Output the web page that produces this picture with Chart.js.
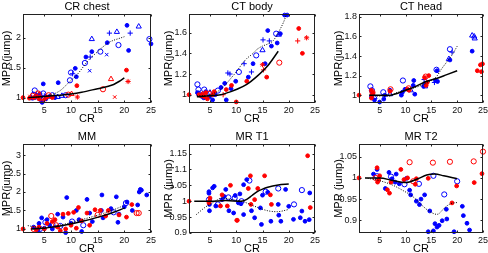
<!DOCTYPE html>
<html>
<head>
<meta charset="utf-8">
<script src="https://cdn.jsdelivr.net/npm/chart.js@4.4.1/dist/chart.umd.min.js"></script>
<style>
  body { margin: 0; width: 488px; height: 253px; overflow: hidden; background: #fff; position: relative; }
  canvas { position: absolute; }
</style>
</head>
<body>
<script>
Chart.defaults.font.family = "'Liberation Sans', Arial, sans-serif";
Chart.defaults.color = '#000';

const xTicks = [5, 10, 15, 20, 25];
const xRange = [1, 25];

// CR chest
const chestYTicks = [1, 1.5, 2];
const chestYRange = [0.91, 2.4];
const chestBlueDot = [[25,1.9],[20.5,2.21],[20.8,1.79],[16.8,1.92],[13.9,1.77],[12.8,1.68],[10.8,1.49],[11,1.35],[7.6,1.25],[4.8,1.23],[4.6,0.92],[3.5,1.04],[6,1.02],[7,1.0],[2.8,0.99],[4.2,1.06],[5.3,0.98],[3.2,1.0]];
const chestBlueRing = [[24.7,1.98],[18.9,1.88],[15.5,1.77],[12.6,1.58],[10,1.42],[9.8,1.29],[3.2,1.12],[4.8,1.07],[3,1.05],[4,1.0],[9,1.04],[6.5,1.04]];
const chestBlueTri = [[22.7,2.19],[18.6,2.1],[13.9,1.98],[4.6,0.96],[8.3,1.03],[3.5,1.03],[7.5,1.01]];
const chestBluePlus = [[21.1,2.08],[17.2,2.08],[13.6,1.68],[10.3,1.4],[2.5,1.0],[5,1.03]];
const chestBlueX = [[16.7,1.72],[13.5,1.45],[4.3,0.97]];
const chestRedDot = [[20.4,1.46],[11.1,1.2],[1,1],[3,1.0],[4,0.98],[5.5,1.01],[2.2,0.99],[6.5,1.0]];
const chestRedStar = [[20.7,1.27],[11.2,1.01],[3.5,1.02],[5,0.97]];
const chestRedTri = [[17.5,1.31],[10.1,1.06],[4,1.05]];
const chestRedRing = [[16,1.14],[9.5,1.05],[3.8,1.07],[2.8,1.03],[5.8,1.04]];
const chestRedX = [[18.2,1.01],[4.5,0.96],[2.3,1.02]];
const chestFit = [[2,1.0],[5,1.02],[8,1.04],[10,1.06],[12,1.09],[15,1.15],[17,1.19],[18,1.22],[19,1.27],[20,1.33]];
const chestFitDot = [[2,1.0],[5,1.02],[6,1.04],[7,1.07],[8,1.12],[9,1.2],[10,1.29],[11,1.37],[12,1.48],[13,1.6],[14,1.69],[15,1.77],[16,1.85],[17,1.92],[18,1.96],[19,1.99],[20,2.02]];

// CT body
const bodyYTicks = [1, 1.2, 1.4, 1.6];
const bodyYRange = [0.92, 1.78];
const bodyBlueDot = [[19.2,1.77],[19.7,1.77],[18.4,1.59],[16,1.62],[17.8,1.5],[16.7,1.47],[15.5,1.3],[13.2,1.3],[12.3,1.17],[9.9,1.13],[7.8,1.11],[7.1,1.07],[4.2,1.03],[5.5,0.95],[8.1,0.95],[4.9,0.98],[3.3,1.0],[6,1.0],[9,1.06],[3.8,0.97],[2.6,1.02]];
const bodyBlueRing = [[17.6,1.59],[13.8,1.38],[10.5,1.22],[2.6,1.1],[2.8,1.05],[3.9,1.05],[6.5,1.04],[3.5,0.99]];
const bodyBlueTri = [[18.1,1.58],[15,1.43],[2.9,1.01],[5,1.02]];
const bodyBluePlus = [[15.1,1.53],[16.3,1.52],[12.9,1.22],[8.4,1.21],[8.8,1.2],[11.5,1.3]];
const bodyRedDot = [[1,1.0],[21.9,1.64],[22.6,1.4],[15.8,1.17],[12,1.13],[9.1,1.09],[8.1,1.05],[5.8,1.03],[2.9,1.0],[3.9,0.98],[4.5,0.96],[5.5,1.0],[10,0.93],[4.2,1.02],[3.3,0.99]];
const bodyRedStar = [[23.4,1.55],[15,1.29],[3.6,1.01]];
const bodyRedPlus = [[21.7,1.52],[15.2,1.24],[7.5,1.0]];
const bodyRedRing = [[18.2,1.31],[4.8,1.01]];
const bodyFit = [[2.5,0.98],[5,0.99],[7,1.0],[9,1.03],[10,1.05],[12,1.1],[14,1.18],[16,1.28],[18,1.42]];
const bodyFitDot = [[2.5,0.99],[5,1.0],[6,1.02],[7,1.05],[8,1.1],[9,1.16],[10,1.22],[11,1.29],[12,1.35],[13,1.39],[14,1.44],[15,1.47],[16,1.49],[17,1.52],[18,1.6],[19,1.7],[19.6,1.78]];

// CT head
const headYTicks = [1, 1.2, 1.4, 1.6, 1.8];
const headYRange = [0.92, 1.83];
const headBlueDot = [[22.9,1.45],[18.6,1.36],[16.1,1.25],[15.8,1.15],[16.2,1.14],[13.5,1.09],[13.8,1.12],[11.5,1.1],[11.6,1.15],[9.9,1.06],[9.4,1.03],[7,1.05],[6,1.0],[5,0.93],[4,0.95],[3.4,0.98],[5.8,0.96],[11.8,1.01],[9.2,1.0]];
const headBlueRing = [[18.6,1.47],[9.5,1.15],[3.2,1.09],[5.7,1.03],[16,1.26],[3.5,1.05]];
const headBlueTri = [[22.9,1.61],[23.3,1.6],[23.4,1.58],[18.4,1.37],[11,1.05],[4,0.98],[7,1.01],[13.8,1.09]];
const headBluePlus = [[19,1.44],[15.6,1.13],[13.6,1.16],[3.6,1.0]];
const headRedDot = [[1,1],[23.9,1.25],[24.7,1.24],[24.5,1.31],[24.9,1.32],[13.7,1.18],[14.2,1.13],[14,1.1],[10.4,1.06],[10.7,1.05],[7,1.04],[3.4,1.05],[3.5,1.0],[3.4,0.97],[3.7,1.02],[14.5,1.2]];
const headRedRing = [[7.1,1.06],[13.9,1.19],[10.6,1.07],[3.6,1.03]];
const headFit = [[3,1.0],[5,1.0],[7,1.0],[8.5,1.02],[10,1.05],[12,1.09],[14,1.14],[16,1.17],[18,1.21],[20,1.25]];
const headFitDot = [[3,1.0],[5,0.99],[7,0.99],[8,1.02],[10,1.05],[12,1.08],[14,1.12],[15,1.15],[16,1.19],[17,1.27],[18,1.34],[19,1.41],[20,1.5]];

// MM
const mmYTicks = [1, 1.5, 2, 2.5, 3];
const mmYRange = [0.89, 3.3];
const mmBlueDot = [[23,2.07],[23.2,2.05],[22.8,2.0],[24.2,1.92],[22.5,1.65],[21.5,1.5],[20.5,1.73],[18.5,1.87],[18.8,1.18],[15.8,1.92],[13,1.8],[9.2,1.85],[15.7,1.5],[13.5,1.43],[11,1.5],[8.5,1.32],[7.5,1.4],[5.5,1.25],[4.5,1.3],[4,1.15],[3,1.05],[6,1.1],[9,0.9],[12,0.93],[16,1.3],[19,1.4],[10,1.15],[11.5,1.25],[17.5,1.55],[14,1.2],[20,1.6],[5,1.02],[6.5,1.0],[3.8,0.97]];
const mmBlueRing = [[5.2,1.18],[6.5,1.12],[8,1.08],[10.2,1.2],[12.3,1.1],[18,1.45],[4.2,1.0],[20.3,1.7]];
const mmRedDot = [[1,1],[21.4,1.66],[20.4,1.32],[19,1.38],[17,1.5],[16.5,1.35],[15.5,1.5],[14.5,1.52],[13,1.43],[11.4,1.58],[10.5,1.45],[9.5,1.42],[8.5,1.4],[7,1.25],[5.5,1.15],[5,1.0],[4,1.05],[3.5,0.98],[7.5,1.05],[8,0.95],[10,1.1],[12,1.22],[13.5,1.1],[6.5,1.2],[9,1.0],[11,1.02]];
const mmRedRing = [[22.7,1.43],[22.3,1.43],[6.3,1.35],[7.2,1.1],[15,1.38],[3,1.0]];
const mmFit = [[2.5,1.0],[5,1.02],[7,1.06],[9.4,1.12],[12,1.2],[15.6,1.34],[18,1.45],[20.1,1.57]];
const mmFitDot = [[1.9,1.09],[3.5,1.05],[5,1.04],[7,1.08],[9.4,1.15],[12,1.25],[15.6,1.4],[18,1.52],[19.7,1.62]];

// MR T1
const t1YTicks = [0.9, 0.95, 1, 1.05, 1.1, 1.15];
const t1YRange = [0.9, 1.18];
const t1BlueDot = [[5.8,1.047],[5.5,1.042],[4.8,1.03],[4.8,1.025],[4.9,0.99],[4.9,0.97],[6.1,0.985],[7.3,1.005],[7.7,1.015],[8.6,0.97],[9.5,0.963],[10.7,1.023],[10.9,0.992],[11.4,0.958],[12,1.068],[12.9,0.97],[13.5,0.948],[14.6,0.979],[15,1.019],[16,1.028],[18,0.99],[18.1,0.956],[18.5,0.937],[20,0.984],[20.9,0.943],[22.2,0.948],[22.5,0.969],[23.1,0.937],[23.9,0.942],[24,1.026],[19.4,1.037],[16.6,0.937],[14.8,0.927],[10.4,0.995],[8,1.037],[11.4,1.052],[9.8,1.018]];
const t1BlueRing = [[12.5,1.065],[15.6,1.03],[18,1.04],[8.5,1.012],[9.7,1.01],[21,0.99],[6.5,0.99],[22.5,1.035],[4.8,1.005],[11,1.0]];
const t1RedDot = [[1,1],[23.6,1.143],[24.1,0.98],[15.4,1.08],[12.7,1.08],[12.3,1.04],[14.1,1.04],[16.5,1.02],[16.7,0.99],[8.9,1.05],[7.3,1.02],[8.3,0.985],[10.1,0.94],[4.9,1.0],[5,1.01],[4.8,0.995],[7,0.985],[13.5,1.005],[10.2,0.94],[12.8,0.99]];
const t1Fit = [[2,1.0],[5,1.0],[8,1.002],[11,1.0],[12,1.006],[13,1.018],[14,1.03],[15,1.038],[16,1.044],[18,1.051],[20,1.054]];
const t1FitDot = [[2.4,0.958],[4,0.98],[5.5,0.995],[7.3,1.01],[9.2,1.005],[11.4,0.998],[13.5,0.984],[16,0.97],[17.8,0.967],[20,0.974]];

// MR T2
const t2YTicks = [0.9, 0.95, 1, 1.05];
const t2YRange = [0.87, 1.08];
const t2BlueDot = [[4.5,1.02],[6.8,1.013],[7.4,0.998],[8.8,0.986],[10.2,0.999],[10.8,0.971],[12.1,0.945],[12.7,0.937],[13.7,0.96],[14.7,0.922],[15.7,0.892],[16.1,0.884],[14.4,0.873],[15.4,0.875],[17.1,0.899],[17.9,0.926],[18,0.903],[19.4,0.873],[21,0.933],[21.2,0.911],[21.9,0.893],[22.4,0.877],[6.1,0.975],[8.2,1.009],[3.8,1.009],[13,0.95],[16.5,0.888],[11,0.96],[8,0.99]];
const t2BlueRing = [[4.5,1.004],[12.6,0.986],[15.4,1.005],[17.5,0.961],[20,0.992],[9.8,0.985],[7.2,1.003]];
const t2RedDot = [[1,1.0],[4.5,1.024],[4.8,0.995],[5,1.005],[4.6,0.99],[9.1,1.02],[6.9,0.964],[6.5,0.972],[19.9,0.981],[23.3,0.989],[19,0.941],[14.4,0.999],[12.1,0.998],[11.9,0.985],[10.4,1.0],[9.7,0.996],[24.8,1.01],[7.2,0.99]];
const t2RedRing = [[25,1.062],[23.2,1.039],[18.6,1.038],[15.3,1.036],[10.8,1.037],[4.2,1.0],[11.5,0.992]];
const t2Fit = [[2.2,1.0],[5,1.0],[7.5,0.994],[10,0.989],[12.4,0.998],[14.1,1.007],[15.7,1.009],[17.4,1.005],[20,0.998]];
const t2FitDot = [[2.2,1.0],[4.8,0.994],[7.5,0.983],[9.4,0.971],[11.4,0.956],[13.4,0.933],[14.4,0.923],[16.1,0.914],[17.7,0.931],[18.7,0.939],[20,0.942]];

const BLUE = 'rgb(0,0,255)', RED = 'rgb(255,0,0)';
const markers = {
  dot: { style: 'circle', r: 1.9, fill: true },
  ring: { style: 'circle', r: 2.6, fill: false },
  tri: { style: 'triangle', r: 3, fill: false },
  plus: { style: 'cross', r: 2.6, fill: false },
  x: { style: 'crossRot', r: 2.4, fill: false },
  star: { style: 'star', r: 2.6, fill: false }
};

const scatter = function scatter(pts, colour, kind) {
  const m = markers[kind];
  return {
    data: pts.map(p => ({ x: p[0], y: p[1] })),
    pointStyle: m.style,
    pointRadius: m.r,
    pointBorderWidth: 1,
    pointBorderColor: colour,
    pointBackgroundColor: m.fill ? colour : 'rgba(0,0,0,0)',
    showLine: false,
    clip: 4,
    order: 2
  };
}
const curve = function curve(pts, dotted) {
  return {
    data: pts.map(p => ({ x: p[0], y: p[1] })),
    showLine: true,
    borderColor: '#000',
    borderWidth: dotted ? 1 : 1.5,
    borderDash: dotted ? [1, 1.5] : [],
    pointRadius: 0,
    cubicInterpolationMode: 'monotone',
    order: 1
  };
}

// inner tick marks and full box, MATLAB style
const boxPlugin = {
  id: 'box',
  afterDraw: chart => {
    const ctx = chart.ctx, a = chart.chartArea;
    const x = chart.scales.x, y = chart.scales.y;
    const l = Math.round(a.left) + 0.5, r = Math.round(a.right) - 0.5;
    const t = Math.round(a.top) + 0.5, b = Math.round(a.bottom) - 0.5;
    ctx.save();
    ctx.strokeStyle = '#222';
    ctx.lineWidth = 1;
    ctx.strokeRect(l, t, r - l, b - t);
    ctx.beginPath();
    x.ticks.forEach(tk => {
      const px = Math.round(x.getPixelForValue(tk.value)) + 0.5;
      ctx.moveTo(px, b); ctx.lineTo(px, b - 2);
      ctx.moveTo(px, t); ctx.lineTo(px, t + 2);
    });
    y.ticks.forEach(tk => {
      const py = Math.round(y.getPixelForValue(tk.value)) + 0.5;
      ctx.moveTo(l, py); ctx.lineTo(l + 2, py);
      ctx.moveTo(r, py); ctx.lineTo(r - 2, py);
    });
    ctx.stroke();
    ctx.restore();
  }
};

const cols = [
  { l: 23, r: 151, yw: 23, yPad: 0.4 },
  { l: 189, r: 315, yw: 30, yPad: 3.4 },
  { l: 359, r: 483, yw: 30, yPad: 3.4 }
];
const rows = [{ t: 14, b: 103 }, { t: 144, b: 233 }];

const panels = [
  { col: 0, row: 0, title: 'CR chest', yLabel: 'MPR(jump)', yTicks: chestYTicks, yRange: chestYRange, sets: [
    scatter(chestRedDot, RED, 'dot'), scatter(chestRedStar, RED, 'star'), scatter(chestRedTri, RED, 'tri'),
    scatter(chestRedRing, RED, 'ring'), scatter(chestRedX, RED, 'x'),
    scatter(chestBlueDot, BLUE, 'dot'), scatter(chestBlueRing, BLUE, 'ring'), scatter(chestBlueTri, BLUE, 'tri'),
    scatter(chestBluePlus, BLUE, 'plus'), scatter(chestBlueX, BLUE, 'x'),
    curve(chestFit, false), curve(chestFitDot, true)] },
  { col: 1, row: 0, title: 'CT body', yLabel: 'MPR(jump)', yTicks: bodyYTicks, yRange: bodyYRange, sets: [
    scatter(bodyRedDot, RED, 'dot'), scatter(bodyRedStar, RED, 'star'), scatter(bodyRedPlus, RED, 'plus'),
    scatter(bodyRedRing, RED, 'ring'),
    scatter(bodyBlueDot, BLUE, 'dot'), scatter(bodyBlueRing, BLUE, 'ring'), scatter(bodyBlueTri, BLUE, 'tri'),
    scatter(bodyBluePlus, BLUE, 'plus'),
    curve(bodyFit, false), curve(bodyFitDot, true)] },
  { col: 2, row: 0, title: 'CT head', yLabel: 'MPR(jump)', yTicks: headYTicks, yRange: headYRange, sets: [
    scatter(headRedDot, RED, 'dot'), scatter(headRedRing, RED, 'ring'),
    scatter(headBlueDot, BLUE, 'dot'), scatter(headBlueRing, BLUE, 'ring'), scatter(headBlueTri, BLUE, 'tri'),
    scatter(headBluePlus, BLUE, 'plus'),
    curve(headFit, false), curve(headFitDot, true)] },
  { col: 0, row: 1, title: 'MM', yLabel: 'MPR(jump)', yTicks: mmYTicks, yRange: mmYRange, sets: [
    scatter(mmRedDot, RED, 'dot'), scatter(mmRedRing, RED, 'ring'),
    scatter(mmBlueDot, BLUE, 'dot'), scatter(mmBlueRing, BLUE, 'ring'),
    curve(mmFit, false), curve(mmFitDot, true)] },
  { col: 1, row: 1, title: 'MR T1', yLabel: 'MPR (jump)', yTicks: t1YTicks, yRange: t1YRange, sets: [
    scatter(t1RedDot, RED, 'dot'),
    scatter(t1BlueDot, BLUE, 'dot'), scatter(t1BlueRing, BLUE, 'ring'),
    curve(t1Fit, false), curve(t1FitDot, true)] },
  { col: 2, row: 1, title: 'MR T2', yLabel: 'MPR (jump)', yTicks: t2YTicks, yRange: t2YRange, sets: [
    scatter(t2RedDot, RED, 'dot'), scatter(t2RedRing, RED, 'ring'),
    scatter(t2BlueDot, BLUE, 'dot'), scatter(t2BlueRing, BLUE, 'ring'),
    curve(t2Fit, false), curve(t2FitDot, true)] }
];

const TITLE_H = 17, XAXIS_H = 23, PAD_R = 10;

panels.forEach(p => {
  const c = cols[p.col], rw = rows[p.row];
  const canvas = document.createElement('canvas');
  canvas.width = (c.r - c.l) + c.yw + PAD_R;
  canvas.height = (rw.b - rw.t) + TITLE_H + XAXIS_H;
  canvas.style.left = (c.l - c.yw) + 'px';
  canvas.style.top = (rw.t - TITLE_H) + 'px';
  document.body.appendChild(canvas);

  new Chart(canvas, {
    type: 'scatter',
    plugins: [boxPlugin],
    data: { datasets: p.sets },
    options: {
      responsive: false,
      animation: false,
      layout: { padding: { left: 0, top: 0, right: PAD_R, bottom: 0 }, autoPadding: false },
      plugins: {
        legend: { display: false },
        tooltip: { enabled: false },
        title: {
          display: true,
          text: p.title,
          fullSize: false,
          color: '#000',
          font: { size: 11, weight: 'normal' },
          padding: { top: 3, bottom: 0.8 }
        }
      },
      scales: {
        x: {
          type: 'linear',
          min: xRange[0],
          max: xRange[1],
          afterBuildTicks: s => { s.ticks = xTicks.map(v => ({ value: v })); },
          afterFit: s => { s.height = XAXIS_H; },
          grid: { display: false, drawTicks: false },
          border: { display: false },
          ticks: { font: { size: 9 }, color: '#111', padding: 2, maxRotation: 0, callback: v => String(v) },
          title: { display: true, text: 'CR', color: '#000', font: { size: 11 }, padding: { top: 0, bottom: 0 } }
        },
        y: {
          type: 'linear',
          min: p.yRange[0],
          max: p.yRange[1],
          afterBuildTicks: s => { s.ticks = p.yTicks.map(v => ({ value: v })); },
          afterFit: s => { s.width = c.yw; },
          grid: { display: false, drawTicks: false },
          border: { display: false },
          ticks: { font: { size: 9 }, color: '#111', padding: 2, callback: v => String(v) },
          title: { display: true, text: p.yLabel, color: '#000', font: { size: 11 }, padding: { top: c.yPad, bottom: 0 } }
        }
      }
    }
  });
});
</script>
</body>
</html>
